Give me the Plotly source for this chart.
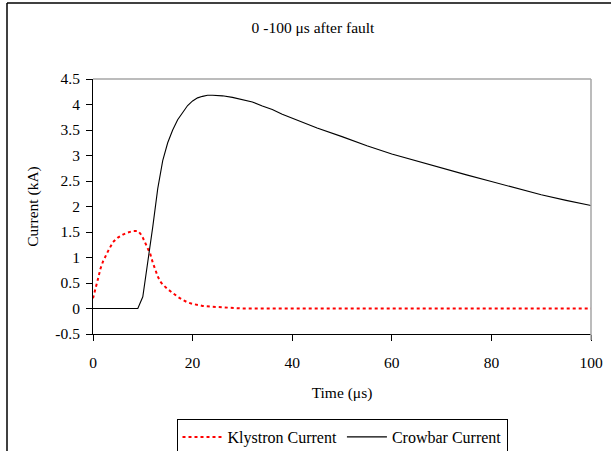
import plotly.graph_objects as go

# Klystron current (kA) vs time (us)
klystron_t = [0, 0.5, 1, 1.5, 2, 3, 4, 5, 6, 7, 8, 9, 9.5, 10, 10.5, 11, 11.5, 12, 12.5,
              13, 13.5, 14, 15, 16, 17, 18, 19, 20, 22, 24, 26, 28, 30, 100]
klystron_i = [0.2, 0.42, 0.58, 0.78, 0.92, 1.12, 1.3, 1.39, 1.45, 1.49, 1.52, 1.52, 1.47,
              1.39, 1.29, 1.19, 1.07, 0.9, 0.76, 0.63, 0.53, 0.47, 0.38, 0.3, 0.23, 0.17,
              0.12, 0.09, 0.05, 0.035, 0.025, 0.01, 0, 0]

# Crowbar current (kA) vs time (us)
crowbar_t = [0, 9, 10, 11, 12, 13, 14, 15, 16, 17, 18, 19, 20, 21, 22, 23, 24, 25, 26, 28,
             30, 32, 34, 36, 38, 40, 45, 50, 55, 60, 65, 70, 75, 80, 85, 90, 95, 100]
crowbar_i = [0, 0, 0.23, 0.9, 1.6, 2.35, 2.9, 3.25, 3.5, 3.7, 3.85, 3.98, 4.07, 4.13, 4.16,
             4.18, 4.18, 4.18, 4.17, 4.14, 4.1, 4.05, 3.97, 3.9, 3.81, 3.73, 3.54, 3.37,
             3.19, 3.03, 2.89, 2.75, 2.62, 2.49, 2.36, 2.23, 2.12, 2.02]

y_tickvals = [-0.5, 0, 0.5, 1, 1.5, 2, 2.5, 3, 3.5, 4, 4.5]
y_ticktext = ["-0.5", "0", "0.5", "1", "1.5", "2", "2.5", "3", "3.5", "4", "4.5"]
x_tickvals = [0, 20, 40, 60, 80, 100]

FONT = "Liberation Serif, Times New Roman, serif"
FS = 15.5

fig = go.Figure()
fig.add_trace(go.Scatter(x=klystron_t, y=klystron_i, mode="lines", name="Klystron Current",
                         line=dict(color="#ff0000", width=2, dash="3px,3px")))
fig.add_trace(go.Scatter(x=crowbar_t, y=crowbar_i, mode="lines", name="Crowbar Current",
                         line=dict(color="#000000", width=1.1)))

L, R, T, B = 93, 20, 79, 117
W, H = 611, 451
pw, ph = W - L - R, H - T - B

def px(x):
    return (x - L) / pw

def py(y):
    return (H - B - y) / ph

fig.update_layout(
    width=W, height=H,
    margin=dict(l=L, r=R, t=T, b=B, autoexpand=False),
    paper_bgcolor="white", plot_bgcolor="white",
    font=dict(family=FONT, size=FS, color="black"),
    title=dict(text="0 -100 μs after fault", x=313 / W, xref="container", xanchor="center",
               y=1 - 28 / H, yref="container", yanchor="middle",
               font=dict(family=FONT, size=FS, color="black")),
    showlegend=True,
    legend=dict(orientation="h", x=0.5, xanchor="center", y=py(419), yanchor="top",
                bordercolor="black", borderwidth=1, bgcolor="white",
                font=dict(family=FONT, size=16, color="black"),
                itemwidth=40, tracegroupgap=0),
    xaxis=dict(range=[0, 100], tickvals=x_tickvals, showgrid=False, zeroline=False,
               showline=True, linecolor="black", linewidth=1,
               ticks="outside", ticklen=6, tickcolor="black", tickwidth=1,
               ticklabelstandoff=8,
               title=dict(text="Time (μs)", standoff=17, font=dict(family=FONT, size=FS))),
    yaxis=dict(range=[-0.5, 4.5], tickvals=y_tickvals, ticktext=y_ticktext, showgrid=False,
               zeroline=False, showline=True, linecolor="black", linewidth=1,
               ticks="outside", ticklen=6, tickcolor="black", tickwidth=1,
               ticklabelstandoff=3,
               title=dict(text="Current (kA)", standoff=12, font=dict(family=FONT, size=FS))),
    shapes=[
        dict(type="line", xref="paper", yref="paper", x0=0, x1=1, y0=1, y1=1,
             line=dict(color="#a6a6a6", width=1.5)),
        dict(type="line", xref="paper", yref="paper", x0=1, x1=1, y0=py(340), y1=1,
             line=dict(color="#a6a6a6", width=1.5)),
        dict(type="line", xref="paper", yref="paper", x0=px(7), x1=px(W + 5), y0=py(3), y1=py(3),
             line=dict(color="black", width=1.5)),
        dict(type="line", xref="paper", yref="paper", x0=px(7), x1=px(7), y0=py(3), y1=py(H + 5),
             line=dict(color="black", width=1.5)),
    ],
)

fig.write_html("out.html", config={"displayModeBar": False},
               post_script="document.body.style.margin='0';document.body.style.overflow='hidden';")
